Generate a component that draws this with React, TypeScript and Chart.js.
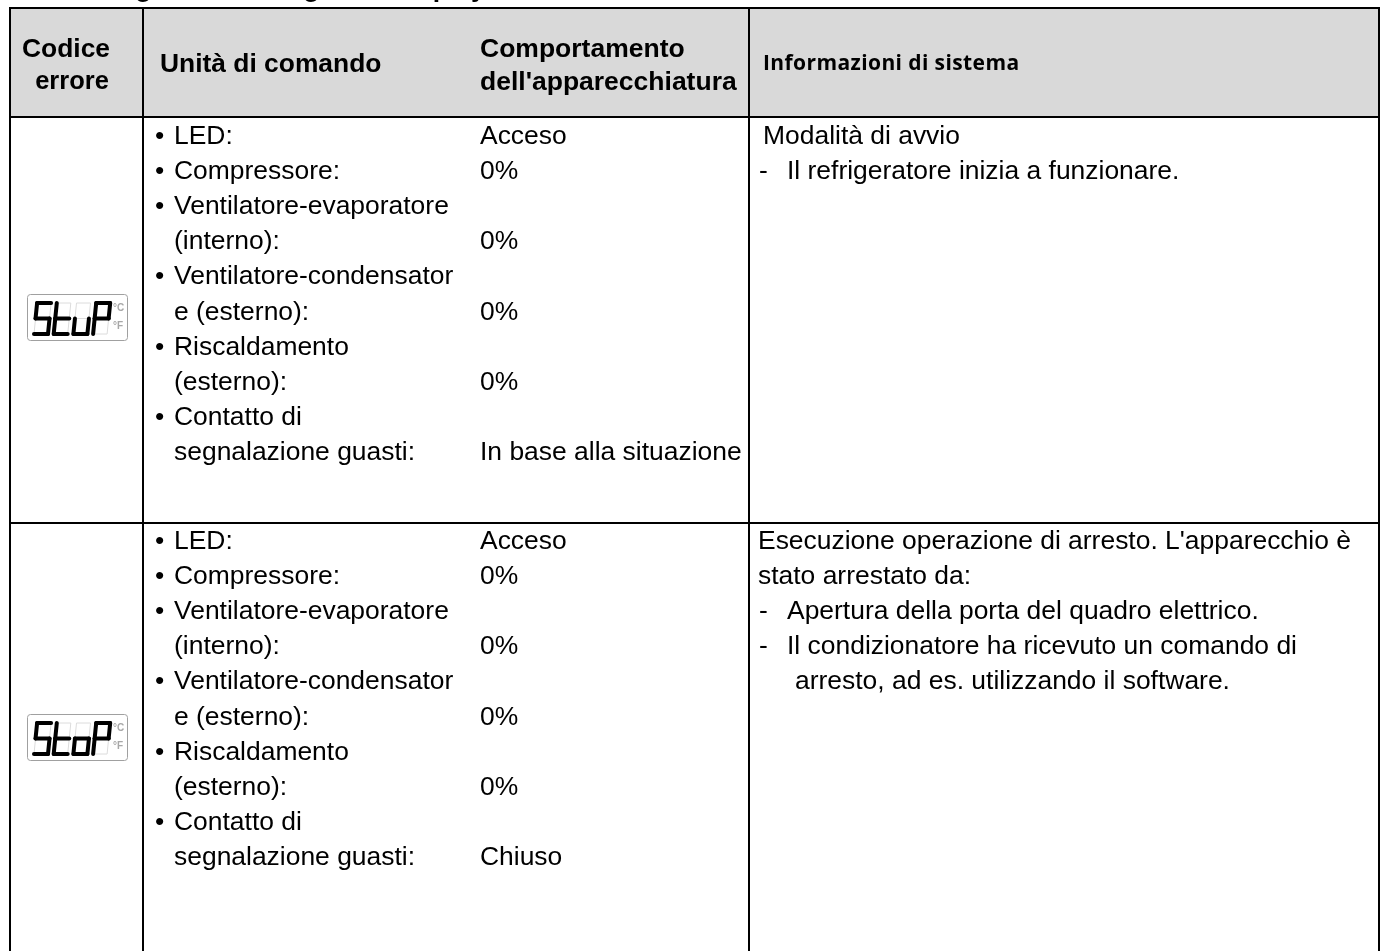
import React, { useEffect, useRef } from "react";
import { Chart, registerables } from "chart.js";

Chart.register(...registerables);

const BODY_FONT = '"Liberation Sans", Arial, sans-serif';
const INFO_FONT = '"Open Sans", Lato, sans-serif';

const titleText = "Diagnostica e segnali a display";
const columnEdges = [10, 143, 749, 1379];
const rowEdges = [8, 117, 523];

const headerCode = ["Codice", "errore"];
const headerUnit = "Unità di comando";
const headerBehaviour = ["Comportamento", "dell'apparecchiatura"];
const headerInfo = "Informazioni di sistema";

const unitLines = [
  "• LED:",
  "• Compressore:",
  "• Ventilatore-evaporatore",
  "   (interno):",
  "• Ventilatore-condensator",
  "   e (esterno):",
  "• Riscaldamento",
  "   (esterno):",
  "• Contatto di",
  "   segnalazione guasti:",
];
const behaviourStartup = ["Acceso", "0%", "", "0%", "", "0%", "", "0%", "", "In base alla situazione"];
const behaviourStop = ["Acceso", "0%", "", "0%", "", "0%", "", "0%", "", "Chiuso"];

const infoStartup = [
  { indent: 5, line: 0, text: "Modalità di avvio" },
  { indent: 1, line: 1, text: "-" },
  { indent: 29, line: 1, text: "Il refrigeratore inizia a funzionare." },
];
const infoStop = [
  { indent: 0, line: 0, text: "Esecuzione operazione di arresto. L'apparecchio è" },
  { indent: 0, line: 1, text: "stato arrestato da:" },
  { indent: 1, line: 2, text: "-" },
  { indent: 29, line: 2, text: "Apertura della porta del quadro elettrico." },
  { indent: 1, line: 3, text: "-" },
  { indent: 29, line: 3, text: "Il condizionatore ha ricevuto un comando di" },
  { indent: 37, line: 4, text: "arresto, ad es. utilizzando il software." },
];

const displayStartup = ["S", "t", "u", "P"];
const displayStop = ["S", "t", "o", "P"];
const SEGMENTS: Record<string, string> = { S: "afgcd", t: "fged", u: "edc", o: "gcde", P: "abfge" };

const tablePlugin = {
  id: "table",
  beforeDatasetsDraw(chart: any) {
    const { ctx, scales } = chart;
    const X = (v: number) => scales.x.getPixelForValue(v);
    const Y = (v: number) => scales.y.getPixelForValue(v);

    const text = (s: string, x: number, y: number, font: string, align: CanvasTextAlign = "left") => {
      ctx.font = font;
      ctx.fillStyle = "#000";
      ctx.textAlign = align;
      ctx.textBaseline = "middle";
      ctx.fillText(s, X(x), Y(y));
    };

    ctx.save();
    ctx.fillStyle = "#d9d9d9";
    ctx.fillRect(X(columnEdges[0]), Y(rowEdges[0]), X(columnEdges[3]) - X(columnEdges[0]), Y(rowEdges[1]) - Y(rowEdges[0]));

    // cropped title: only its descenders reach the top of the page
    ctx.font = `bold 26.5px ${BODY_FONT}`;
    ctx.fillStyle = "#000";
    ctx.textAlign = "left";
    ctx.textBaseline = "alphabetic";
    ctx.fillText(titleText, 94, -3.5);

    // grid
    ctx.strokeStyle = "#000";
    ctx.lineWidth = 2;
    ctx.beginPath();
    columnEdges.forEach((c) => {
      ctx.moveTo(X(c), Y(rowEdges[0] - 1));
      ctx.lineTo(X(c), Y(951));
    });
    rowEdges.forEach((r) => {
      ctx.moveTo(X(columnEdges[0] - 1), Y(r));
      ctx.lineTo(X(columnEdges[3] + 1), Y(r));
    });
    ctx.stroke();

    // header text
    const hb = `bold 26.4px ${BODY_FONT}`;
    text(headerCode[0], 66, 50, hb, "center");
    text(headerCode[1], 72, 82, `bold 25.5px ${BODY_FONT}`, "center");
    text(headerUnit, 160, 65, hb);
    text(headerBehaviour[0], 480, 50, `bold 26.5px ${BODY_FONT}`);
    text(headerBehaviour[1], 480, 83, `bold 26.5px ${BODY_FONT}`);
    ctx.letterSpacing = "0.4px";
    text(headerInfo, 763, 64, `bold 21px ${INFO_FONT}`);
    ctx.letterSpacing = "0px";

    const bodyFont = `26.45px ${BODY_FONT}`;
    const pitch = 35.15;
    const drawUnit = (lines: string[], top: number) =>
      lines.forEach((l, i) => {
        if (l.startsWith("•")) {
          text("•", 155, top + i * pitch, bodyFont);
          text(l.slice(2), 174, top + i * pitch, bodyFont);
        } else {
          text(l.trim(), 174, top + i * pitch, bodyFont);
        }
      });
    const drawCol = (lines: string[], top: number) =>
      lines.forEach((l, i) => l && text(l, 480, top + i * pitch, bodyFont));

    const rowOneTop = 136.6;
    const rowTwoTop = 541.6;
    drawUnit(unitLines, rowOneTop);
    drawCol(behaviourStartup, rowOneTop);
    drawUnit(unitLines, rowTwoTop);
    drawCol(behaviourStop, rowTwoTop);

    infoStartup.forEach((l) => text(l.text, 758 + l.indent, rowOneTop + l.line * pitch, bodyFont));
    infoStop.forEach((l) => text(l.text, 758 + l.indent, rowTwoTop + l.line * pitch, bodyFont));

    // seven-segment displays
    const drawDisplay = (chars: string[], left: number, top: number) => {
      const w = 100;
      const h = 46;
      ctx.save();
      ctx.filter = "blur(0.5px)";
      ctx.strokeStyle = "#a0a0a0";
      ctx.lineWidth = 1;
      ctx.beginPath();
      ctx.roundRect(X(left) + 0.5, Y(top) + 0.5, w, h, 3);
      ctx.stroke();
      const seg = (x: number, y: number, id: string) => {
        const dw = 14;
        const dh = 15.5;
        const sl = 0.1;
        const pts: Record<string, number[]> = {
          a: [0, 2 * dh, dw, 2 * dh],
          b: [dw, 2 * dh, dw, dh],
          c: [dw, dh, dw, 0],
          d: [0, 0, dw, 0],
          e: [0, dh, 0, 0],
          f: [0, 2 * dh, 0, dh],
          g: [0, dh, dw, dh],
        };
        const [x1, y1, x2, y2] = pts[id];
        ctx.beginPath();
        ctx.moveTo(x + x1 + y1 * sl, y - y1);
        ctx.lineTo(x + x2 + y2 * sl, y - y2);
        ctx.stroke();
      };
      chars.forEach((c, i) => {
        const x = X(left) + 7 + i * 19.7;
        const y = Y(top) + 40;
        ctx.lineCap = "butt";
        ctx.strokeStyle = "#dcdcdc";
        ctx.lineWidth = 1;
        "abcdefg".split("").forEach((s) => seg(x, y, s));
        ctx.lineCap = "round";
        ctx.strokeStyle = "#000";
        ctx.lineWidth = 4;
        SEGMENTS[c].split("").forEach((s) => seg(x, y, s));
      });
      ctx.fillStyle = "#a8a8a8";
      ctx.font = `bold 10px ${BODY_FONT}`;
      ctx.textAlign = "left";
      ctx.textBaseline = "middle";
      ctx.fillText("°C", X(left) + 86, Y(top) + 14);
      ctx.fillText("°F", X(left) + 86, Y(top) + 32);
      ctx.restore();
    };
    drawDisplay(displayStartup, 27, 294);
    drawDisplay(displayStop, 27, 714);
    ctx.restore();
  },
};

export default function App() {
  const ref = useRef<HTMLCanvasElement | null>(null);
  useEffect(() => {
    if (!ref.current) return;
    const chart = new Chart(ref.current, {
      type: "scatter",
      data: { datasets: [{ data: [] }] },
      plugins: [tablePlugin],
      options: {
        animation: false,
        responsive: false,
        layout: { padding: 0 },
        plugins: { legend: { display: false }, tooltip: { enabled: false }, title: { display: false } },
        scales: {
          x: { type: "linear", min: 0, max: 1382, display: false },
          y: { type: "linear", min: 0, max: 951, reverse: true, display: false },
        },
      },
    });
    return () => chart.destroy();
  }, []);
  return (
    <canvas
      ref={ref}
      width={1382}
      height={951}
      style={{ position: "absolute", left: 0, top: 0, width: 1382, height: 951, display: "block", background: "#fff" }}
    />
  );
}
